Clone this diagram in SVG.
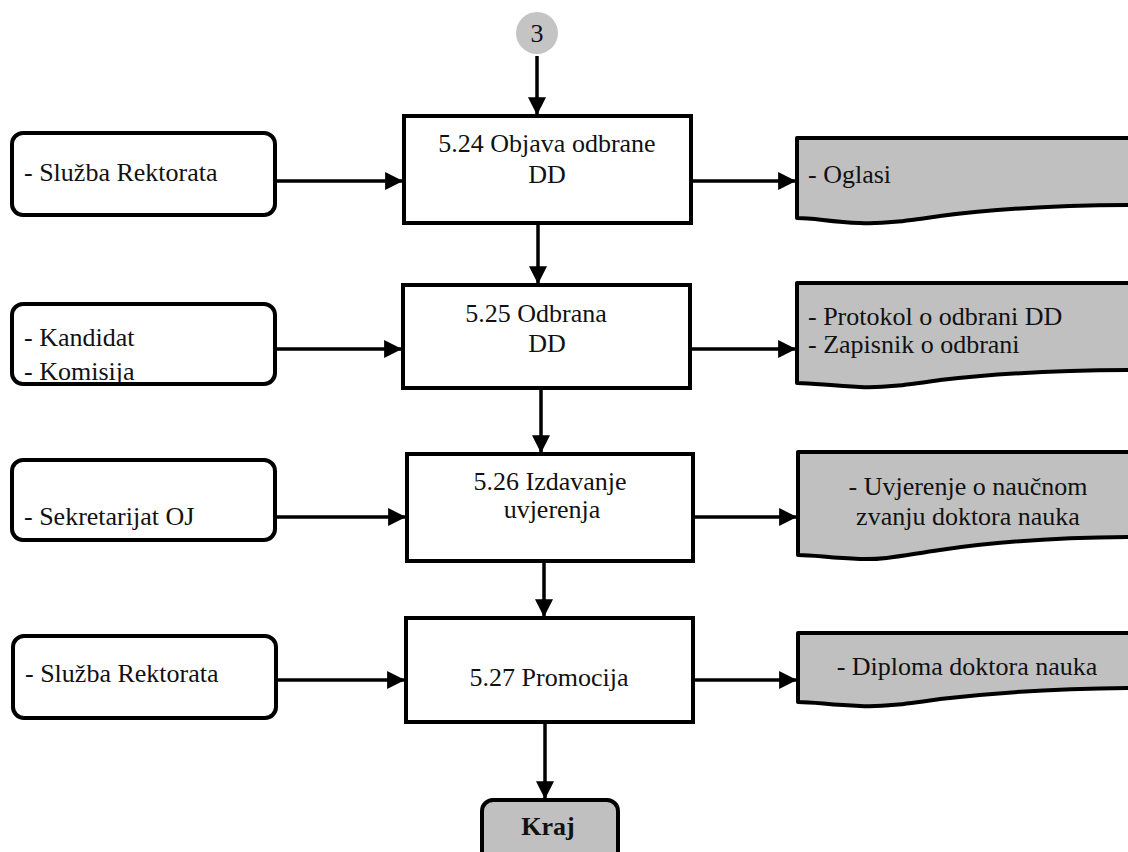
<svg xmlns="http://www.w3.org/2000/svg" width="1128" height="852" viewBox="0 0 1128 852">
<style>
text{font-family:"Liberation Serif","Times New Roman",serif;font-size:26px;fill:#111}
.proc{fill:#fff;stroke:#000;stroke-width:4}
.ext{fill:#fff;stroke:#000;stroke-width:4}
.doc{fill:#c0c0c0;stroke:#000;stroke-width:4;stroke-linejoin:round}
.c{text-anchor:middle}
.conn{stroke:#000;stroke-width:3.5;fill:none;marker-end:url(#ah)}
</style>
<defs>
<marker id="ah" markerUnits="userSpaceOnUse" markerWidth="18" markerHeight="18" viewBox="0 0 16 16" refX="15" refY="8" orient="auto">
<path d="M0,0 L16,8 L0,16 Z" fill="#000"/>
</marker>
</defs>
<g id="start">
<circle cx="537" cy="33" r="21" fill="#c4c4c4"/>
<text x="537" y="42" class="c">3</text>
</g>
<g id="p524">
<rect x="404" y="116" width="287" height="107" class="proc"/>
<text x="547" y="152" class="c">5.24 Objava odbrane</text>
<text x="547" y="183" class="c">DD</text>
</g>
<g id="p525">
<rect x="403" y="285" width="287" height="103" class="proc"/>
<text x="536" y="322" class="c">5.25 Odbrana</text>
<text x="547" y="352" class="c">DD</text>
</g>
<g id="p526">
<rect x="407" y="454" width="286" height="107" class="proc"/>
<text x="550" y="490" class="c">5.26 Izdavanje</text>
<text x="552" y="518" class="c">uvjerenja</text>
</g>
<g id="p527">
<rect x="406" y="618" width="287" height="104" class="proc"/>
<text x="549" y="686" class="c">5.27 Promocija</text>
</g>
<g id="in1">
<rect x="12" y="133" width="263" height="82" rx="11" class="ext"/>
<text x="24" y="181">- Služba Rektorata</text>
</g>
<g id="in2">
<rect x="12" y="304" width="263" height="80" rx="11" fill="#fff"/>
<text x="24" y="346">- Kandidat</text>
<text x="24" y="380">- Komisija</text>
<rect x="12" y="304" width="263" height="80" rx="11" fill="none" stroke="#000" stroke-width="4"/>
</g>
<g id="in3">
<rect x="12" y="460" width="263" height="80" rx="11" class="ext"/>
<text x="24" y="525">- Sekretarijat OJ</text>
</g>
<g id="in4">
<rect x="13" y="636" width="263" height="82" rx="11" class="ext"/>
<text x="25" y="682">- Služba Rektorata</text>
</g>
<g id="out1">
<path d="M797,138 H1140 V205 C1060,205 1000,208 940,216 C905,221 885,224 860,223 C830,222 815,218 797,218 Z" class="doc"/>
<text x="808" y="183">- Oglasi</text>
</g>
<g id="out2">
<path d="M797,283 H1140 V370 C1060,370 1000,373 940,380 C905,385 885,388 860,387 C830,386 815,383 797,383 Z" class="doc"/>
<text x="808" y="325">- Protokol o odbrani DD</text>
<text x="808" y="353">- Zapisnik o odbrani</text>
</g>
<g id="out3">
<path d="M798,452 H1140 V537 C1060,537 1000,541 940,550 C905,555 885,560 860,559 C830,558 815,555 798,555 Z" class="doc"/>
<text x="968" y="495" class="c">- Uvjerenje o naučnom</text>
<text x="968" y="525" class="c">zvanju doktora nauka</text>
</g>
<g id="out4">
<path d="M798,633 H1140 V688 C1060,688 1000,692 940,699 C905,704 885,707 860,706 C830,705 815,702 798,702 Z" class="doc"/>
<text x="967" y="675" class="c">- Diploma doktora nauka</text>
</g>
<g id="end">
<rect x="482" y="800" width="136" height="70" rx="11" fill="#c0c0c0" stroke="#000" stroke-width="4"/>
<text x="548" y="835" class="c" font-weight="bold">Kraj</text>
</g>
<g id="connectors">
<line x1="537" y1="56" x2="537" y2="114" class="conn"/>
<line x1="275" y1="181" x2="402" y2="181" class="conn"/>
<line x1="691" y1="181" x2="795" y2="181" class="conn"/>
<line x1="538" y1="225" x2="538" y2="283" class="conn"/>
<line x1="275" y1="349" x2="401" y2="349" class="conn"/>
<line x1="690" y1="349" x2="795" y2="349" class="conn"/>
<line x1="541" y1="388" x2="541" y2="452" class="conn"/>
<line x1="275" y1="517" x2="405" y2="517" class="conn"/>
<line x1="693" y1="517" x2="796" y2="517" class="conn"/>
<line x1="544" y1="561" x2="544" y2="616" class="conn"/>
<line x1="276" y1="680" x2="404" y2="680" class="conn"/>
<line x1="693" y1="680" x2="796" y2="680" class="conn"/>
<line x1="545" y1="722" x2="545" y2="798" class="conn"/>
</g>
</svg>
